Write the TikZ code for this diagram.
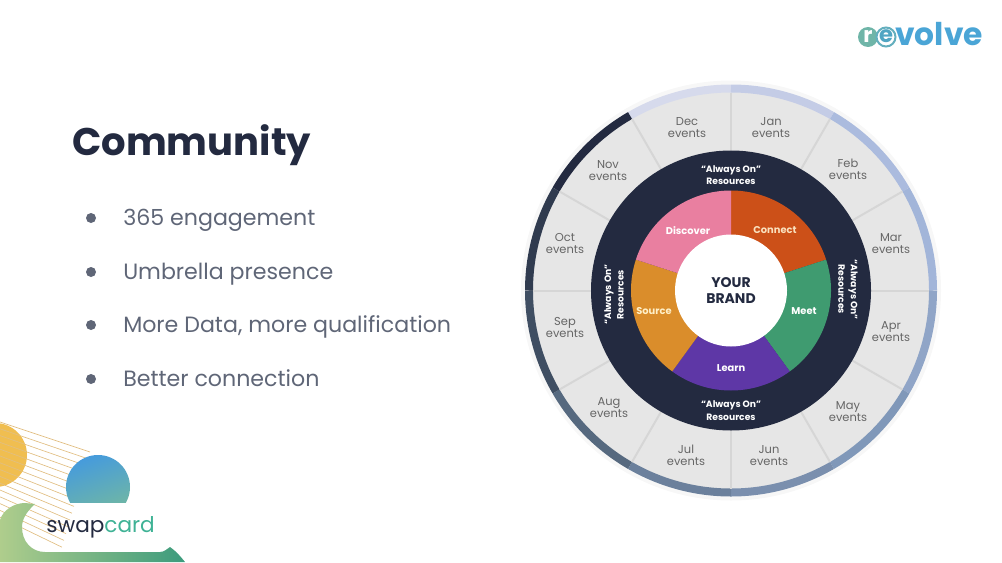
\documentclass[tikz,border=0pt]{standalone}
\usepackage{fontspec}
\setmainfont{Poppins}
\usepackage{tikz}

\definecolor{navy}{HTML}{232A40}
\definecolor{slabgray}{HTML}{E6E6E6}
\definecolor{sepgray}{HTML}{D6D6D6}
\definecolor{monthgray}{HTML}{666666}
\definecolor{bodygray}{HTML}{5F6677}
\definecolor{rimA}{HTML}{D6DAEC}
\definecolor{rimB}{HTML}{C4CCE6}
\definecolor{rimC}{HTML}{ABBBDE}
\definecolor{rimD}{HTML}{A2B5D9}
\definecolor{rimE}{HTML}{90A5C7}
\definecolor{rimF}{HTML}{8098B9}
\definecolor{rimG}{HTML}{7A8FAE}
\definecolor{rimH}{HTML}{6B809C}
\definecolor{rimI}{HTML}{56697F}
\definecolor{rimJ}{HTML}{3F4E62}
\definecolor{rimK}{HTML}{303B4F}
\definecolor{cardgreen}{HTML}{3FB295}

\tikzset{
  bullet text/.style={anchor=base west, color=bodygray, font=\fontsize{16.6}{17}\selectfont, inner sep=0pt},
  bullet dot/.style={circle, fill=bodygray, inner sep=0pt, minimum size=7.5},
  month/.style={color=monthgray, font=\fontsize{8.6}{9.3}\selectfont, align=center, inner sep=0pt},
  resources/.style={color=white, font=\fontsize{6.9}{9.4}\selectfont\bfseries, align=center, inner sep=0pt},
  petal label/.style={color=white, font=\fontsize{7.4}{8}\selectfont\bfseries, inner sep=0pt},
}

\begin{document}
\begin{tikzpicture}[x=0.75pt, y=0.75pt]
\useasboundingbox (0,0) rectangle (1002,562);

\node[anchor=base west, color=navy, font=\fontsize{28.9}{30}\selectfont\bfseries, inner sep=0pt] (title) at (72,407) {Community};

\node[bullet dot] (dot one) at (91,344) {};
\node[bullet dot] (dot two) at (91,290) {};
\node[bullet dot] (dot three) at (91,237) {};
\node[bullet dot] (dot four) at (91,183) {};
\node[bullet text] (engagement) at (123,337) {365 engagement};
\node[bullet text] (presence) at (123,283) {Umbrella presence};
\node[bullet text] (qualification) at (123,230) {More Data, more qualification};
\node[bullet text] (connection) at (123,176) {Better connection};

\begin{scope}[shift={(731,271.5)}]
\fill[black, opacity=0.03] (0,0) circle (210);
\fill[slabgray] (0,0) circle (200);
\foreach \a/\c in {90/rimA, 60/rimB, 30/rimC, 0/rimD, -30/rimE, -60/rimF, -90/rimG, -120/rimH, -150/rimI, -180/rimJ} {
  \draw[color=\c, line width=6] (\a:202) arc[start angle=\a, end angle=\a+30, radius=202];
}
\draw[color=navy, line width=6] (150:202) arc[start angle=150, end angle=120, radius=202];
\draw[color=rimK, line width=6] (180:202) arc[start angle=180, end angle=150, radius=202];
\foreach \a in {0,30,...,330} {
  \draw[color=sepgray, line width=1.5] (\a:138) -- (\a:198);
}
\fill[navy] (0,0) circle (140);

\fill[color={rgb,255:red,204;green,80;blue,24}] (0,0) -- (90:100) arc[start angle=90, end angle=18, radius=100] -- cycle;
\fill[color={rgb,255:red,63;green,155;blue,112}] (0,0) -- (18:100) arc[start angle=18, end angle=-54, radius=100] -- cycle;
\fill[color={rgb,255:red,94;green,55;blue,166}] (0,0) -- (-54:100) arc[start angle=-54, end angle=-126, radius=100] -- cycle;
\fill[color={rgb,255:red,218;green,141;blue,43}] (0,0) -- (-126:100) arc[start angle=-126, end angle=-198, radius=100] -- cycle;
\fill[color={rgb,255:red,233;green,127;blue,160}] (0,0) -- (162:100) arc[start angle=162, end angle=90, radius=100] -- cycle;
\fill[white] (0,0) circle (56);

\foreach \m/\x/\y in {Jan/40/163, Feb/117/121, Mar/160/47, Apr/160/-41, May/117/-121, Jun/38/-165, Jul/-45/-165, Aug/-122/-117, Sep/-166/-37, Oct/-166/47, Nov/-123/120, Dec/-44/163} {
  \node[month] (month \m) at (\x,\y) {\m \\ events};
}

\node[resources] (always top) at (0,115.5) {``Always On'' \\ Resources};
\node[resources] (always bottom) at (0,-120) {``Always On'' \\ Resources};
\node[resources, rotate=90] (always left) at (-117,-4) {``Always On'' \\ Resources};
\node[resources, rotate=-90] (always right) at (117,1) {``Always On'' \\ Resources};

\node[petal label, color={rgb,255:red,250;green,225;blue,190}] (connect) at (44,60) {Connect};
\node[petal label] (meet) at (73,-21) {Meet};
\node[petal label] (learn) at (0,-78) {Learn};
\node[petal label, color={rgb,255:red,255;green,240;blue,200}] (source) at (-77,-21) {Source};
\node[petal label] (discover) at (-43,60) {Discover};
\node[color=navy, font=\fontsize{10.5}{12.2}\selectfont\bfseries, align=center, inner sep=0pt] (your brand) at (0,0) {YOUR \\ BRAND};
\end{scope}

\fill[color={rgb,255:red,111;green,181;blue,168}] (868,525) circle (10);
\node[color=white, font=\fontsize{16}{16}\selectfont\bfseries, inner sep=0pt] (logo r) at (868,526) {r};
\draw[color={rgb,255:red,100;green,175;blue,190}, line width=1.5, fill=white] (886,525) circle (9.5);
\node[color={rgb,255:red,80;green,165;blue,195}, font=\fontsize{17}{17}\selectfont\bfseries, inner sep=0pt] (logo e) at (886,526) {e};
\node[anchor=west, color={rgb,255:red,74;green,165;blue,214}, font=\fontsize{23.5}{23.5}\selectfont\bfseries, inner sep=0pt] (logo volve) at (895,528) {volve};

\fill[color={rgb,255:red,240;green,190;blue,80}] (-5,107) circle (32);
\foreach \k in {0,1,...,14} {
  \draw[color={rgb,255:red,225;green,190;blue,130}, line width=0.5] (0,140-\k*6.8) -- (90-\k*2,110-\k*6.8);
}
\begin{scope}
\clip (60,60) rectangle (140,120);
\shade[left color={rgb,255:red,70;green,155;blue,220}, right color={rgb,255:red,115;green,185;blue,160}, shading angle=20] (98,75) circle (32);
\end{scope}
\shade[left color={rgb,255:red,175;green,205;blue,140}, right color={rgb,255:red,60;green,155;blue,125}]
  (0,0) -- (0,42) .. controls (3,52) and (14,59) .. (25,59) -- (35,58) .. controls (26,50) and (22,42) .. (22,35)
  .. controls (22,20) and (32,10) .. (45,10) -- (160,10) .. controls (164,10) and (167,13) .. (170,15) .. controls (176,11) and (181,5) .. (185,0) -- cycle;
\node[anchor=west, font=\fontsize{16.2}{16.2}\selectfont, inner sep=0pt] (swapcard) at (46,35) {\textcolor{navy}{swap}\textcolor{cardgreen}{card}};
\end{tikzpicture}
\end{document}
